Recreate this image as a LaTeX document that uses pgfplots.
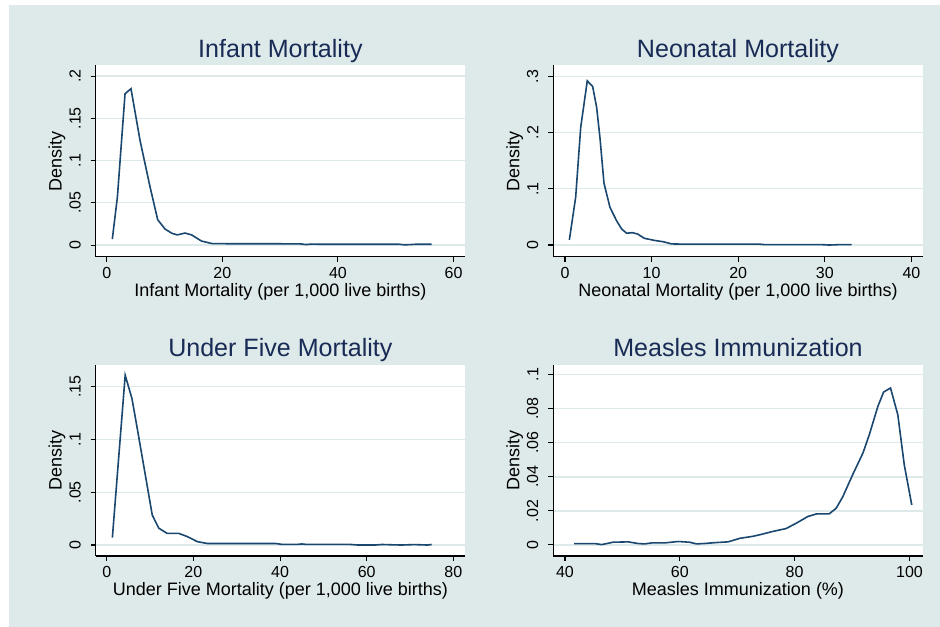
\documentclass[border=0pt]{standalone}
\usepackage{pgfplots}
\pgfplotsset{compat=1.18}
\usepackage{fontspec}
\setmainfont{Liberation Sans}
\definecolor{bgc}{RGB}{222,233,234}
\definecolor{gridc}{RGB}{222,233,234}
\definecolor{linec}{RGB}{26,71,111}
\definecolor{titlec}{RGB}{24,43,85}
\pgfplotsset{
  panel/.style={
    scale only axis, width=277pt, height=143.5pt,
    axis background/.style={fill=white},
    axis x line*=bottom, axis y line*=left,
    axis line style={black, line width=0.8pt, -},
    tick align=outside, major tick length=3.75pt,
    tick style={black, line width=0.8pt},
    ymajorgrids, grid style={gridc, line width=1pt},
    xticklabel shift=0.4pt, yticklabel shift=4pt,
    xticklabel style={font=\fontsize{12}{14}\selectfont},
    yticklabel style={font=\fontsize{12}{14}\selectfont, rotate=90, anchor=south},
    title style={font=\fontsize{18.8}{22}\selectfont, text=titlec, at={([yshift=-0.2pt]axis description cs:0.5,1)}, anchor=base},
    xlabel style={font=\fontsize{13.5}{15}\selectfont, at={([yshift=-30pt]axis description cs:0.5,0)}, anchor=base},
    ylabel style={font=\fontsize{13.5}{15}\selectfont, at={([xshift=-25.5pt]axis description cs:0,0.5)}, anchor=base},
    ylabel={Density},
    cycle list={{linec}},
    every axis plot post/.append style={draw=linec, line width=1.2pt, mark=none},
  }
}
\begin{document}
\begin{tikzpicture}[x=1pt,y=1pt]
\useasboundingbox (0,0) rectangle (705,470.25);
\fill[white] (0,0) rectangle (705,470.25);
\fill[bgc] (6.75,0) rectangle (705,466.5);

% Infant
\begin{axis}[panel, at={(71.8pt,277.7pt)}, anchor=south west,
  xmin=-1.9, xmax=62, ymin=-0.0138, ymax=0.2126,
  xtick={0,20,40,60}, xticklabels={0,20,40,60},
  ytick={0,0.05,0.1,0.15,0.2}, yticklabels={0,.05,.1,.15,.2},
  title={Infant Mortality}, xlabel={Infant Mortality (per 1,000 live births)}]
\addplot[linec, line width=1.2pt] coordinates {(0.97,0.007) (1.85,0.057) (3.17,0.179) (4.2,0.185) (5.76,0.124) (7.49,0.069) (8.82,0.030) (10.09,0.019) (11.25,0.014) (12.2,0.012) (13.55,0.0142) (14.7,0.012) (16.4,0.0047) (18.2,0.0018) (22,0.0015) (30,0.0015) (33.5,0.0014) (34.5,0.0006) (35.5,0.0012) (36.5,0.001) (45,0.001) (50.5,0.001) (51.5,0.0003) (52.5,0.0005) (53.5,0.001) (56.2,0.001)};
\end{axis}

% Neonatal
\begin{axis}[panel, at={(415pt,277.7pt)}, anchor=south west,
  xmin=-1.35, xmax=41.3, ymin=-0.0208, ymax=0.3195,
  xtick={0,10,20,30,40}, xticklabels={0,10,20,30,40},
  ytick={0,0.1,0.2,0.3}, yticklabels={0,.1,.2,.3},
  title={Neonatal Mortality}, xlabel={Neonatal Mortality (per 1,000 live births)}]
\addplot[linec, line width=1.2pt] coordinates {(0.5,0.009) (1.23,0.085) (1.81,0.209) (2.57,0.292) (3.19,0.282) (3.65,0.245) (4.04,0.19) (4.5,0.11) (5.19,0.067) (5.96,0.043) (6.54,0.0285) (7.12,0.021) (7.76,0.022) (8.38,0.0196) (9.15,0.012) (10.4,0.008) (11.3,0.006) (12.3,0.002) (13.8,0.0015) (22.5,0.0015) (23,0.0008) (29.5,0.0008) (30.5,0.0) (31.5,0.0006) (33.1,0.0006)};
\end{axis}

% Under five
\begin{axis}[panel, at={(71.8pt,53.25pt)}, anchor=south west,
  xmin=-2.54, xmax=82.7, ymin=-0.0104, ymax=0.171,
  xtick={0,20,40,60,80}, xticklabels={0,20,40,60,80},
  ytick={0,0.05,0.1,0.15}, yticklabels={0,.05,.1,.15},
  title={Under Five Mortality}, xlabel={Under Five Mortality (per 1,000 live births)}]
\addplot[linec, line width=1.2pt] coordinates {(1.3,0.007) (4.26,0.161) (5.81,0.139) (6.98,0.112) (8.5,0.076) (10.5,0.0285) (12.0,0.016) (13.95,0.011) (16.65,0.011) (18.6,0.008) (20.9,0.0032) (23.3,0.0014) (39,0.0014) (40.5,0.0006) (44,0.0006) (45,0.001) (46,0.0006) (56,0.0006) (58,0.0) (62,0.0) (63.5,0.0005) (66,0.0002) (68,0.0) (71,0.0004) (74,0.0) (75,0.0005)};
\end{axis}

% Measles
\begin{axis}[panel, at={(415pt,53.25pt)}, anchor=south west,
  xmin=37.97, xmax=102.3, ymin=-0.0065, ymax=0.1059,
  xtick={40,60,80,100}, xticklabels={40,60,80,100},
  ytick={0,0.02,0.04,0.06,0.08,0.1}, yticklabels={0,.02,.04,.06,.08,.1},
  title={Measles Immunization}, xlabel={Measles Immunization (\%)}]
\addplot[linec, line width=1.2pt] coordinates {(41.6,0.0008) (45.2,0.0008) (46.4,0.0002) (48.4,0.0016) (51.0,0.0018) (52.8,0.0008) (53.9,0.0006) (55.1,0.0012) (57.4,0.0012) (59.7,0.002) (61.7,0.0016) (62.9,0.0006) (64.1,0.0008) (66.4,0.0014) (68.4,0.0018) (70.5,0.0039) (72.8,0.0051) (74.2,0.0062) (76.3,0.008) (78.5,0.0096) (80.3,0.0128) (82.3,0.0167) (83.8,0.0182) (86.0,0.0182) (87.25,0.0216) (88.4,0.0284) (90.1,0.0412) (91.9,0.054) (93.0,0.0647) (94.5,0.0814) (95.5,0.0898) (96.7,0.0922) (97.97,0.0765) (99.1,0.047) (100.4,0.0235)};
\end{axis}
\end{tikzpicture}
\end{document}
